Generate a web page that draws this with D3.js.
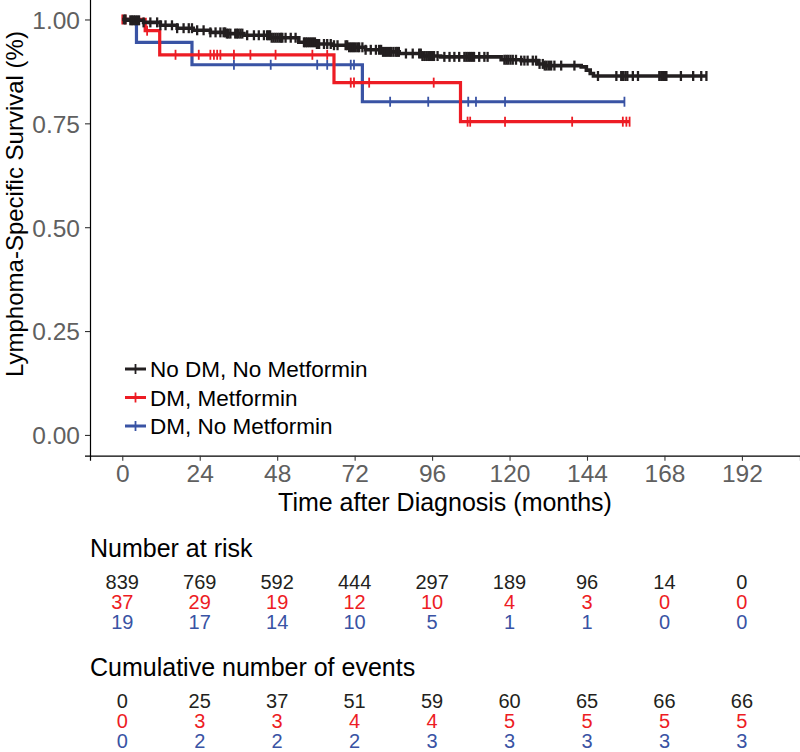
<!DOCTYPE html>
<html>
<head>
<meta charset="utf-8">
<script src="https://cdn.jsdelivr.net/npm/d3@7"></script>
<style>
  body { margin: 0; background: #fff; }
  svg { display: block; font-family: "Liberation Sans", Arial, Helvetica, sans-serif; }
</style>
</head>
<body>
<div id="chart"></div>
<script>
// axis ticks
var timeTicks = [0, 24, 48, 72, 96, 120, 144, 168, 192];
var survTicks = [0, 0.25, 0.5, 0.75, 1];

var groupNames = ["No DM, No Metformin", "DM, Metformin", "DM, No Metformin"];
var groupColours = ["#231f20", "#ed1c24", "#3953a4"];

// Kaplan-Meier steps (time in months, survival)
var blackTimes = [0, 1.5, 6.6, 11.8, 17, 22, 27.3, 32.3, 37.7, 46, 54.7, 60, 65.1, 70, 75.4, 80.5, 85.8, 93, 98.7, 117.4, 123.6, 128.8, 130.8, 142.2, 143.8, 145, 146];
var blackSurv  = [1, 0.998, 0.993, 0.986, 0.979, 0.974, 0.969, 0.966, 0.962, 0.956, 0.945, 0.941, 0.938, 0.933, 0.927, 0.922, 0.918, 0.912, 0.910, 0.903, 0.901, 0.893, 0.889, 0.886, 0.878, 0.870, 0.864];
var blackEnd = 181;
var blackCensor = [0.5, 1, 2.5, 3, 3.5, 4, 4.6, 5.2, 6.6, 8.7, 10.8, 11.8, 13.4, 15.4, 17, 19, 20.6, 21.6, 23.2, 25.2, 27.3, 28.9, 30.4,
  31.4, 31.9, 32.4, 32.9, 33.5, 35, 35.5, 36, 36.6, 37.2, 38.7, 40.8, 42.3, 43.9, 44.9, 45.3, 45.8, 46.3, 46.9, 47.5, 48.1, 48.7, 49.2, 49.6,
  50.6, 52.2, 53.7, 56.3, 56.8, 57.3, 57.9, 58.5, 59.1, 59.7, 60.3, 61, 62.5, 63.5, 64.6, 65.6, 66.7, 69.2, 69.7, 70.3, 70.9, 71.5, 72.1, 72.8, 73.4,
  74.4, 75.4, 77, 78.6, 79.6, 80.2, 80.8, 81.4, 82, 82.7, 83.3, 84, 84.7, 85.2, 85.7, 87.9, 90, 92, 92.5, 93, 93.6, 94.2, 94.8, 95.4, 96, 96.6,
  97.7, 99.8, 101.4, 102.9, 104.4, 106, 106.6, 107.2, 107.8, 108.4, 109, 110.6, 112.2, 113.2, 118.4, 119, 119.6, 120.3, 121, 122, 123.6, 124.6,
  125.6, 127.2, 128.2, 129.3, 130.3, 130.9, 131.5, 132.2, 132.9, 133.9, 136, 140.1, 147.4, 153.1, 154.6, 155.2, 155.9, 156.5, 158.2, 159.8,
  166.4, 167, 167.6, 168.2, 168.6, 173.1, 176.9, 179.4, 181];

var redTimes = [0, 7.1, 11.6, 65.6, 104.8];
var redSurv  = [1, 0.973, 0.915, 0.848, 0.754];
var redEnd = 157.2;
var redCensor = [0, 1, 7.7, 16.5, 23.7, 27.3, 28.4, 29.4, 30.4, 34.6, 39.7, 47.5, 58.9, 63.5, 70.8, 71.8, 76.5, 96.5, 107, 107.8, 118.6, 139.4, 155.1, 156.2, 157.2];

var blueTimes = [0, 4.4, 21.6, 74.4];
var blueSurv  = [1, 0.945, 0.891, 0.802];
var blueEnd = 155.6;
var blueCensor = [34.6, 46, 60.4, 63.5, 70.8, 71.8, 83, 94.8, 107.2, 109.6, 118.6, 155.6];

// risk table
var atRiskBlack = [839, 769, 592, 444, 297, 189, 96, 14, 0];
var atRiskRed   = [37, 29, 19, 12, 10, 4, 3, 0, 0];
var atRiskBlue  = [19, 17, 14, 10, 5, 1, 1, 0, 0];
var eventsBlack = [0, 25, 37, 51, 59, 60, 65, 66, 66];
var eventsRed   = [0, 3, 3, 4, 4, 5, 5, 5, 5];
var eventsBlue  = [0, 2, 2, 2, 3, 3, 3, 3, 3];

var W = 800, H = 752;
var svg = d3.select("#chart").append("svg").attr("width", W).attr("height", H);

var x = d3.scaleLinear().domain([-10, 210]).range([90, 800]);
var y = d3.scaleLinear().domain([-0.05, 1.05]).range([455.7, -1.3]);

var tickGrey = "#606060";

// axes
var xAxis = svg.append("g")
  .attr("transform", "translate(0," + y(-0.05) + ")")
  .call(d3.axisBottom(x).tickValues(timeTicks).tickSize(5).tickPadding(4).tickFormat(d3.format("d")));
var yAxis = svg.append("g")
  .attr("transform", "translate(" + x(-10) + ",0)")
  .call(d3.axisLeft(y).tickValues(survTicks).tickSize(5).tickPadding(5).tickFormat(d3.format(".2f")));

[xAxis, yAxis].forEach(function(a) {
  a.select(".domain").attr("stroke", "#000").attr("stroke-width", 1.2);
  a.selectAll(".tick line").attr("stroke", "#333").attr("stroke-width", 1.1);
  a.selectAll(".tick text").attr("fill", tickGrey).style("font-size", "24.5px")
    .style("font-family", "'Liberation Sans', Arial, sans-serif");
});
xAxis.selectAll(".tick text").attr("dy", "0.71em");
yAxis.selectAll(".tick text").attr("dy", "0.36em");

// axis titles
svg.append("text")
  .attr("x", 445).attr("y", 511)
  .attr("text-anchor", "middle")
  .style("font-size", "25px")
  .text("Time after Diagnosis (months)");

svg.append("text")
  .attr("transform", "translate(23,204) rotate(-90)")
  .attr("text-anchor", "middle")
  .style("font-size", "24px")
  .text("Lymphoma-Specific Survival (%)");

// survival curves
function survAt(times, surv, t) {
  var s = surv[0];
  for (var i = 0; i < times.length; i++) {
    if (times[i] <= t) s = surv[i];
  }
  return s;
}

var curves = [
  {times: blackTimes, surv: blackSurv, end: blackEnd, censor: blackCensor, colour: groupColours[0], lw: 3.6, cw: 2.3},
  {times: redTimes, surv: redSurv, end: redEnd, censor: redCensor, colour: groupColours[1], lw: 3.2, cw: 1.8},
  {times: blueTimes, surv: blueSurv, end: blueEnd, censor: blueCensor, colour: groupColours[2], lw: 3.2, cw: 1.8}
];

var line = d3.line()
  .x(d => x(d[0]))
  .y(d => y(d[1]))
  .curve(d3.curveStepAfter);

var plot = svg.append("g");

// draw blue, then red, then black on top like the figure
[2, 1, 0].forEach(function(k) {
  var c = curves[k];
  var pts = c.times.map((t, i) => [t, c.surv[i]]);
  pts.push([c.end, c.surv[c.surv.length - 1]]);

  plot.append("path")
    .datum(pts)
    .attr("fill", "none")
    .attr("stroke", c.colour)
    .attr("stroke-width", c.lw)
    .attr("d", line);

  plot.selectAll(null)
    .data(c.censor)
    .enter()
    .append("line")
      .attr("x1", d => x(d)).attr("x2", d => x(d))
      .attr("y1", d => y(survAt(c.times, c.surv, d)) - 5)
      .attr("y2", d => y(survAt(c.times, c.surv, d)) + 5)
      .attr("stroke", c.colour)
      .attr("stroke-width", c.cw);
});

// legend
var legend = svg.append("g");
groupNames.forEach(function(name, i) {
  var ly = 369 + i * 28.5;
  legend.append("line")
    .attr("x1", 125).attr("x2", 146).attr("y1", ly).attr("y2", ly)
    .attr("stroke", groupColours[i]).attr("stroke-width", 3);
  legend.append("line")
    .attr("x1", 135.5).attr("x2", 135.5).attr("y1", ly - 5).attr("y2", ly + 5)
    .attr("stroke", groupColours[i]).attr("stroke-width", 1.8);
  legend.append("text")
    .attr("x", 150).attr("y", ly).attr("dy", "0.36em")
    .style("font-size", "22.5px")
    .attr("fill", "#000")
    .text(name);
});

// tables under the plot
function drawTable(title, titleY, rows, rowY) {
  svg.append("text")
    .attr("x", 90).attr("y", titleY)
    .style("font-size", "25px")
    .text(title);
  rows.forEach(function(vals, r) {
    svg.append("g").selectAll("text")
      .data(vals)
      .enter()
      .append("text")
        .attr("x", (d, i) => x(timeTicks[i]))
        .attr("y", rowY + r * 20.3)
        .attr("dy", "0.36em")
        .attr("text-anchor", "middle")
        .attr("fill", groupColours[r])
        .style("font-size", "20px")
        .style("font-family", "'Liberation Sans Narrow', 'Liberation Sans', Arial, sans-serif")
        .text(d => d);
  });
}

drawTable("Number at risk", 557, [atRiskBlack, atRiskRed, atRiskBlue], 581.5);
drawTable("Cumulative number of events", 676, [eventsBlack, eventsRed, eventsBlue], 700.5);
</script>
</body>
</html>
